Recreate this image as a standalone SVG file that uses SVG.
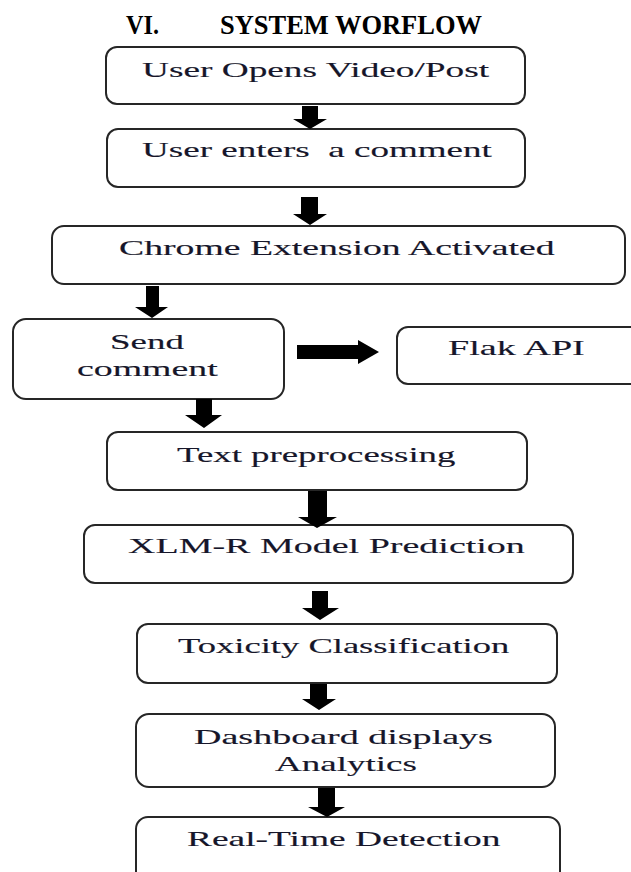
<svg xmlns="http://www.w3.org/2000/svg" width="631" height="872" viewBox="0 0 631 872">
  <style>
    .box { fill: #ffffff; stroke: #262626; stroke-width: 2; }
    .lbl { font-family: "Liberation Serif", "Times New Roman", serif; font-size: 22px; fill: #16162a; stroke: #16162a; stroke-width: 0.15; }
    .title { font-family: "Liberation Serif", "Times New Roman", serif; font-size: 27px; font-weight: bold; fill: #000000; }
    .arrow { fill: #000000; stroke: none; }
  </style>
  <rect width="631" height="872" fill="#ffffff"/>

  <!-- heading -->
  <g id="heading">
    <text class="title" x="126" y="34" textLength="33" lengthAdjust="spacingAndGlyphs">VI.</text>
    <text class="title" x="220" y="34" textLength="262" lengthAdjust="spacingAndGlyphs">SYSTEM WORFLOW</text>
  </g>

  <!-- workflow steps; labels use a wide horizontal scale -->
  <g id="open-video">
    <rect class="box" x="106" y="47" width="419" height="57" rx="11"/>
    <text class="lbl" transform="translate(142 77) scale(1.695 1)">User Opens Video/Post</text>
  </g>
  <g id="enter-comment">
    <rect class="box" x="107" y="129" width="418" height="58" rx="11"/>
    <text class="lbl" xml:space="preserve" transform="translate(142 157) scale(1.685 1)">User enters  a comment</text>
  </g>
  <g id="extension-activated">
    <rect class="box" x="52" y="226" width="573" height="58" rx="12"/>
    <text class="lbl" style="font-size:21px" transform="translate(119 255) scale(1.796 1)">Chrome Extension Activated</text>
  </g>
  <g id="send-comment">
    <rect class="box" x="13" y="319" width="271" height="80" rx="13"/>
    <text class="lbl" transform="translate(110 349) scale(1.68 1)">Send</text>
    <text class="lbl" transform="translate(77 376) scale(1.72 1)">comment</text>
  </g>
  <g id="flask-api">
    <rect class="box" x="397" y="327" width="250" height="57" rx="11"/>
    <text class="lbl" transform="translate(448 355) scale(1.736 1)">Flak API</text>
  </g>
  <g id="preprocessing">
    <rect class="box" x="107" y="432" width="420" height="58" rx="11"/>
    <text class="lbl" transform="translate(177 462) scale(1.673 1)">Text preprocessing</text>
  </g>
  <g id="model-prediction">
    <rect class="box" x="84" y="525" width="489" height="58" rx="11"/>
    <text class="lbl" transform="translate(128 553) scale(1.728 1)">XLM-R Model Prediction</text>
  </g>
  <g id="toxicity">
    <rect class="box" x="137" y="624" width="420" height="59" rx="11"/>
    <text class="lbl" transform="translate(178 653) scale(1.661 1)">Toxicity Classification</text>
  </g>
  <g id="dashboard">
    <rect class="box" x="136" y="714" width="419" height="73" rx="13"/>
    <text class="lbl" transform="translate(194 744) scale(1.729 1)">Dashboard displays</text>
    <text class="lbl" transform="translate(275 771) scale(1.684 1)">Analytics</text>
  </g>
  <g id="realtime">
    <rect class="box" x="136" y="817" width="424" height="70" rx="12"/>
    <text class="lbl" transform="translate(187 846) scale(1.702 1)">Real-Time Detection</text>
  </g>

  <!-- block arrows -->
  <g id="connectors">
    <polygon class="arrow" points="302,106 318,106 318,119 327,119 310,129 293,119 302,119"/>
    <polygon class="arrow" points="301,197 318,197 318,214 327,214 310,225 293,214 301,214"/>
    <polygon class="arrow" points="146,286 159,286 159,307 168,307 152,318 135,307 146,307"/>
    <polygon class="arrow" points="196,399 212,399 212,415 222,415 204,428 185,415 196,415"/>
    <polygon class="arrow" points="308,491 327,491 327,517 337,517 317,528 298,517 308,517"/>
    <polygon class="arrow" points="312,591 328,591 328,608 339,608 320,620 302,608 312,608"/>
    <polygon class="arrow" points="310,684 327,684 327,699 336,699 319,710 302,699 310,699"/>
    <polygon class="arrow" points="318,788 335,788 335,807 345,807 327,817 308,807 318,807"/>
    <polygon class="arrow" points="297,345 358,345 358,340 379,352 358,364 358,359 297,359"/>
  </g>
</svg>
